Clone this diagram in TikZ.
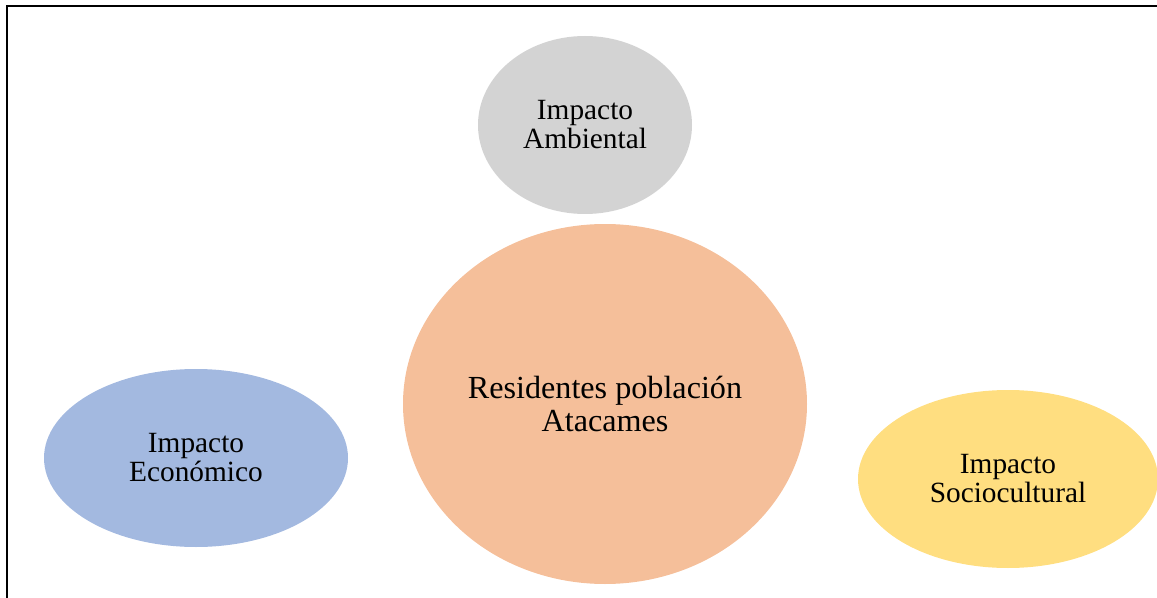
\documentclass[tikz,border=0pt]{standalone}
\usepackage{fontspec}
\setmainfont{Liberation Serif}
\usetikzlibrary{shapes.geometric}
\definecolor{ambgray}{HTML}{D3D3D3}
\definecolor{respeach}{HTML}{F5BF9A}
\definecolor{ecoblue}{HTML}{A3B9E0}
\definecolor{socyellow}{HTML}{FFDE80}
\begin{document}
\begin{tikzpicture}[
  blob/.style={ellipse,inner sep=0pt,outer sep=0pt,align=center,
    font=\fontsize{16.7}{16.5}\selectfont,minimum width=6.04cm,minimum height=3.56cm}]
  \useasboundingbox (0,0) rectangle (23.14,11.94);
  \draw [line width=0.04cm] (0.14,-0.5) -- (0.14,11.82) -- (23.6,11.82);
  \node [blob,fill=ambgray,minimum width=4.28cm] (amb) at (11.70,9.44) {Impacto\\Ambiental};
  \node [blob,fill=respeach,minimum width=8.08cm,minimum height=7.20cm,
    font=\fontsize{18.3}{19.3}\selectfont] (res) at (12.10,3.86) {Residentes población\\Atacames};
  \node [blob,fill=ecoblue,minimum width=6.08cm] (eco) at (3.92,2.78) {Impacto\\Económico};
  \node [blob,fill=socyellow,minimum width=6.0cm] (soc) at (20.16,2.36) {Impacto\\Sociocultural};
\end{tikzpicture}
\end{document}
